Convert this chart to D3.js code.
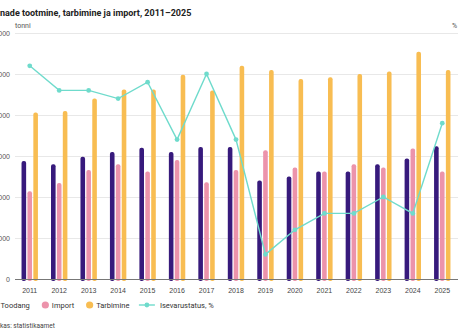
<!DOCTYPE html>
<html>
<head>
<meta charset="utf-8">
<script src="https://cdn.jsdelivr.net/npm/d3@7"></script>
<style>
  html, body { margin: 0; padding: 0; background: #fff; overflow: hidden; }
  svg { display: block; font-family: Roboto, "Noto Sans", sans-serif; }
  .grid line { stroke: #e8e8e8; stroke-width: 1; }
  .tick-label { fill: #555; font-size: 7px; }
  .year-label { fill: #444; font-size: 7px; }
  .legend text { fill: #333; font-size: 7.5px; }
</style>
</head>
<body>
<div id="chart"></div>
<script>
// data
const years = [2011, 2012, 2013, 2014, 2015, 2016, 2017, 2018, 2019, 2020, 2021, 2022, 2023, 2024, 2025];
const toodang   = [14400, 14000, 14900, 15500, 16000, 15500, 16100, 16100, 12000, 12500, 13100, 13100, 14000, 14700, 16200];
const importVal = [10700, 11700, 13300, 14000, 13100, 14500, 11800, 13300, 15700, 13600, 13100, 14000, 13600, 15900, 13100];
const tarbimine = [20300, 20500, 22000, 23100, 23100, 24900, 23000, 26000, 25500, 24400, 24600, 25000, 25300, 27700, 25500];
const isevarustatus = [71, 68, 68, 67, 69, 62, 70, 62, 48, 51, 53, 53, 55, 53, 64];

const seriesNames = ['Toodang', 'Import', 'Tarbimine'];
const lineName = 'Isevarustatus, %';
const leftTicks = [0, 5000, 10000, 15000, 20000, 25000, 30000];
const rightDomain = [45, 75];   // % axis, its labels sit outside the frame in the reference

const title = 'Munade tootmine, tarbimine ja import, 2011\u20132025';
const source = 'Allikas: statistikaamet';

const config = {
  width: 458,
  height: 336,
  plot: { left: 15, right: 457, top: 33, bottom: 279 },
  colors: ['#371a7c', '#ec93ab', '#f8bd52'],
  lineColor: '#6fdbcc',
  barWidth: 4.6,
  groupWidth: 17.7,
};

const svg = d3.select('#chart').append('svg')
  .attr('width', config.width)
  .attr('height', config.height);

const fmt = d3.formatLocale({ decimal: ',', thousands: '\u00a0', grouping: [3], currency: ['', ''] }).format(',d');

// scales
const x0 = d3.scaleBand()
  .domain(years)
  .range([config.plot.left, config.plot.right]);
const x1 = d3.scaleBand()
  .domain(seriesNames)
  .range([0, config.groupWidth]);
const y = d3.scaleLinear()
  .domain([0, 30000])
  .range([config.plot.bottom, config.plot.top]);
const yRight = d3.scaleLinear()
  .domain(rightDomain)
  .range([config.plot.bottom, config.plot.top]);

// gridlines
svg.append('g')
  .attr('class', 'grid')
  .attr('transform', `translate(${config.plot.left},0)`)
  .call(d3.axisLeft(y).tickValues(leftTicks).tickSize(-(config.width - config.plot.left)).tickFormat(''))
  .call(g => g.select('.domain').remove());

// left axis labels (partly cut by the frame, as in the reference)
svg.append('g')
  .attr('transform', `translate(${config.plot.left - 5},0)`)
  .call(d3.axisLeft(y).tickValues(leftTicks).tickSize(0).tickFormat(fmt))
  .call(g => g.select('.domain').remove())
  .call(g => g.selectAll('text').attr('class', 'tick-label').attr('x', 0).attr('dy', '0.32em'));

svg.append('text')
  .attr('class', 'tick-label')
  .attr('x', config.plot.left)
  .attr('y', 28)
  .text('tonni');
svg.append('text')
  .attr('class', 'tick-label')
  .attr('x', 452)
  .attr('y', 28)
  .text('%');

// bars
const table = years.map((yr, i) => ({ year: yr, values: [toodang[i], importVal[i], tarbimine[i]] }));
const groups = svg.append('g').attr('class', 'bars')
  .selectAll('g')
  .data(table)
  .join('g')
  .attr('transform', d => `translate(${x0(d.year) + (x0.bandwidth() - config.groupWidth) / 2},0)`);
groups.selectAll('rect')
  .data(d => d.values.map((v, k) => ({ key: seriesNames[k], value: v, k: k })))
  .join('rect')
  .attr('x', d => x1(d.key) + (x1.bandwidth() - config.barWidth) / 2)
  .attr('y', d => y(d.value))
  .attr('width', config.barWidth)
  .attr('height', d => config.plot.bottom - y(d.value) + 2)
  .attr('rx', 2)
  .attr('fill', d => config.colors[d.k]);

// baseline
svg.append('line')
  .attr('x1', config.plot.left)
  .attr('x2', config.width)
  .attr('y1', config.plot.bottom + 0.5)
  .attr('y2', config.plot.bottom + 0.5)
  .attr('stroke', '#777')
  .attr('stroke-width', 1.2);

// x axis labels
svg.append('g')
  .attr('transform', `translate(0,${config.plot.bottom})`)
  .call(d3.axisBottom(x0).tickSize(0).tickPadding(9))
  .call(g => g.select('.domain').remove())
  .call(g => g.selectAll('text').attr('class', 'year-label'));

// self-sufficiency line
const linePts = years.map((yr, i) => ({ year: yr, v: isevarustatus[i] }));
const line = d3.line()
  .x(d => x0(d.year) + x0.bandwidth() / 2)
  .y(d => yRight(d.v));
svg.append('path')
  .datum(linePts)
  .attr('fill', 'none')
  .attr('stroke', config.lineColor)
  .attr('stroke-width', 1.4)
  .attr('d', line);
svg.append('g')
  .selectAll('circle')
  .data(linePts)
  .join('circle')
  .attr('cx', d => x0(d.year) + x0.bandwidth() / 2)
  .attr('cy', d => yRight(d.v))
  .attr('r', 2.4)
  .attr('fill', config.lineColor);

// legend
const legend = svg.append('g').attr('class', 'legend').attr('transform', 'translate(0,305)');
let lx = -6;
seriesNames.forEach((name, k) => {
  legend.append('circle').attr('cx', lx).attr('cy', 0).attr('r', 3.6).attr('fill', config.colors[k]);
  const t = legend.append('text').attr('x', lx + 6.5).attr('y', 0).attr('dy', '0.35em').text(name);
  lx += 6.5 + t.node().getComputedTextLength() + 15.5;
});
legend.append('line')
  .attr('x1', lx - 6).attr('x2', lx + 10)
  .attr('stroke', config.lineColor).attr('stroke-width', 1.4);
legend.append('circle').attr('cx', lx + 2).attr('cy', 0).attr('r', 2.4).attr('fill', config.lineColor);
legend.append('text').attr('x', lx + 15).attr('y', 0).attr('dy', '0.35em').text(lineName);

// title and source, left part is cut by the frame like in the reference
const titleText = svg.append('text')
  .attr('y', 16)
  .attr('fill', '#222')
  .style('font-size', '9px')
  .style('font-weight', 'bold')
  .text(title);
const cut = svg.append('text').style('font-size', '9px').style('font-weight', 'bold').text('Mu');
titleText.attr('x', -cut.node().getComputedTextLength());
cut.remove();

const sourceText = svg.append('text')
  .attr('y', 328)
  .attr('fill', '#444')
  .style('font-size', '6.5px')
  .text(source);
const cut2 = svg.append('text').style('font-size', '6.5px').text('Alli');
sourceText.attr('x', -cut2.node().getComputedTextLength());
cut2.remove();
</script>
</body>
</html>
